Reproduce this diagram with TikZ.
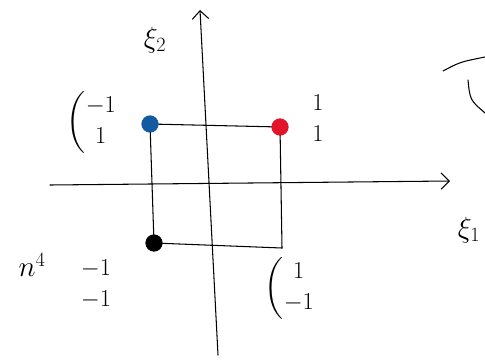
\documentclass[tikz,border=0pt]{standalone}
\usepackage{amsmath,amssymb}
\usepackage{xcolor}
\usetikzlibrary{arrows.meta, positioning, calc}

\definecolor{penblue}{RGB}{20,90,160}
\definecolor{penred}{RGB}{228,20,40}

\begin{document}
\begin{tikzpicture}[
    x=0.03cm, y=-0.03cm,
    pen/.style={line width=0.9pt, black, line cap=round},
    dot/.style={circle, fill=#1, draw=#1, inner sep=0pt, minimum size=0.5cm},
    axis/.style={pen, -{Straight Barb[length=7pt, width=14pt, line width=0.9pt]}},
    lab/.style={font=\fontsize{22}{26}\selectfont, align=center},
    big/.style={font=\fontsize{26}{30}\selectfont, inner sep=1pt}
]
\useasboundingbox (0,0) rectangle (485,359);

% corners of the square
\node[dot=penblue] (pm) at (150,124) {};
\node[dot=penred] (pp) at (280,127) {};
\node[dot=black] (mm) at (154,243) {};
\coordinate (pmr) at (282,248);

% axes
\coordinate (xs) at (50,185);
\coordinate (xe) at (450,181);
\coordinate (ys) at (218,355);
\coordinate (ye) at (200,10);
\draw[axis] (xs) -- (xe);
\draw[axis] (ys) -- (ye);

% square
\draw[pen] (pm) -- (pp);
\draw[pen] (pm) -- (mm);
\draw[pen] (pp) -- (pmr);
\draw[pen] (mm) -- (pmr);

% labels
\node[lab] (lpm) at (92,122) {$\left(\begin{matrix}-1\\ 1\end{matrix}\right.$};
\node[lab] (lpp) at (318,120) {$\begin{matrix}1\\ 1\end{matrix}$};
\node[lab] (lmm) at (96,285) {$\begin{matrix}-1\\ -1\end{matrix}$};
\node[lab] (lmp) at (290,288) {$\left(\begin{matrix}1\\ -1\end{matrix}\right.$};
\node[big] (xi2) at (155,40) {$\xi_2$};
\node[big] (xi1) at (469,230) {$\xi_1$};
\node[big] (nq) at (32,265) {$n^4$};

% stroke cut off at the right edge
\draw[pen] (443,71) .. controls (460,62) .. (485,57);
\draw[pen] (468,80) .. controls (470,100) .. (485,113);

\end{tikzpicture}
\end{document}
